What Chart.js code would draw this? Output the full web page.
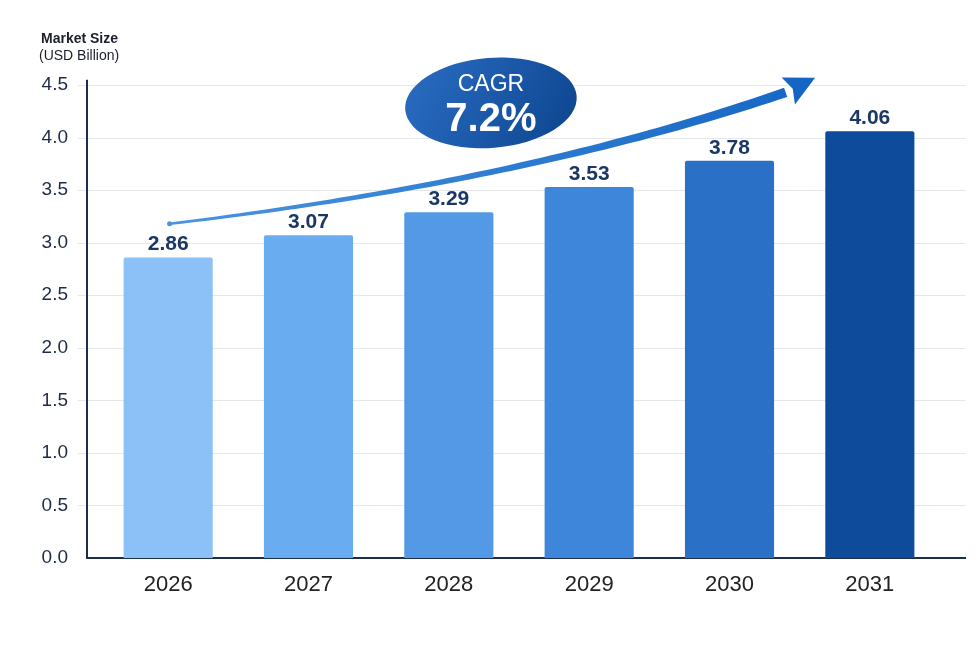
<!DOCTYPE html>
<html>
<head>
<meta charset="utf-8">
<style>
  html, body { margin: 0; padding: 0; background: #ffffff; }
  #wrap { position: relative; width: 980px; height: 653px; }
</style>
<script src="https://cdn.jsdelivr.net/npm/chart.js@4.4.1/dist/chart.umd.min.js"></script>
</head>
<body>
<div id="wrap"><canvas id="MarketSize" width="980" height="653"></canvas></div>
<script>
var years = ["2026", "2027", "2028", "2029", "2030", "2031"]
var marketSize = [2.86, 3.07, 3.29, 3.53, 3.78, 4.06]
var barColors = ["#8cc1f7", "#69acef", "#5399e5", "#3d86d9", "#2a70c6", "#0f4b9b"]
var yTicks = [0, 0.5, 1, 1.5, 2, 2.5, 3, 3.5, 4, 4.5]
var cagrLabel = "CAGR"
var cagrValue = "7.2%"

var FONT = "'Liberation Sans', Arial, sans-serif"

// grid lines + axis lines drawn a bit wider than the chart area
var axesPlugin = {
    id: "axesPlugin",
    beforeDatasetsDraw: function (chart) {
        var ctx = chart.ctx, y = chart.scales.y, a = chart.chartArea
        ctx.save()
        ctx.strokeStyle = "#e4e7eb"
        ctx.lineWidth = 1
        yTicks.forEach(function (t) {
            if (t === 0) return
            var py = Math.round(y.getPixelForValue(t)) + 0.5
            ctx.beginPath()
            ctx.moveTo(78, py)
            ctx.lineTo(966, py)
            ctx.stroke()
        })
        ctx.strokeStyle = "#1d2d4c"
        ctx.lineWidth = 2
        ctx.beginPath()
        ctx.moveTo(87, y.getPixelForValue(4.55))
        ctx.lineTo(87, a.bottom)
        ctx.lineTo(966, a.bottom)
        ctx.stroke()
        ctx.restore()
    },
    afterDatasetsDraw: function (chart) {
        var ctx = chart.ctx
        var meta = chart.getDatasetMeta(0)
        ctx.save()
        ctx.font = "bold 21px " + FONT
        ctx.fillStyle = "#1b3766"
        ctx.textAlign = "center"
        ctx.textBaseline = "alphabetic"
        meta.data.forEach(function (bar, i) {
            ctx.fillText(marketSize[i].toFixed(2), bar.x, bar.y - 7)
        })
        ctx.restore()
    }
}

// CAGR bubble and growth arrow, positioned through the scales
var cagrPlugin = {
    id: "cagrPlugin",
    afterDraw: function (chart) {
        var ctx = chart.ctx, xs = chart.scales.x, ys = chart.scales.y
        var x0 = xs.getPixelForValue(0), x1 = xs.getPixelForValue(1)
        function px(i) { return x0 + i * (x1 - x0) }
        function py(v) { return ys.getPixelForValue(v) }

        // arrow: quadratic curve with growing width
        var P0 = [px(0.01), py(3.18)], P1 = [px(2.54), py(3.58)], P2 = [px(4.4), py(4.43)]
        var tip = [px(4.61), py(4.57)]
        function pt(t) {
            var u = 1 - t
            return [u * u * P0[0] + 2 * u * t * P1[0] + t * t * P2[0],
                    u * u * P0[1] + 2 * u * t * P1[1] + t * t * P2[1]]
        }
        function tan(t) {
            var dx = 2 * (1 - t) * (P1[0] - P0[0]) + 2 * t * (P2[0] - P1[0])
            var dy = 2 * (1 - t) * (P1[1] - P0[1]) + 2 * t * (P2[1] - P1[1])
            var l = Math.sqrt(dx * dx + dy * dy)
            return [dx / l, dy / l]
        }
        var left = [], right = [], N = 60
        for (var k = 0; k <= N; k++) {
            var t = k / N, p = pt(t), d = tan(t)
            var hw = 1.3 + 3.5 * t
            left.push([p[0] - d[1] * hw, p[1] + d[0] * hw])
            right.push([p[0] + d[1] * hw, p[1] - d[0] * hw])
        }
        var grad = ctx.createLinearGradient(P0[0], 0, tip[0], 0)
        grad.addColorStop(0, "#4a95e0")
        grad.addColorStop(1, "#1566c4")
        ctx.save()
        ctx.fillStyle = grad
        ctx.beginPath()
        ctx.moveTo(left[0][0], left[0][1])
        for (k = 1; k <= N; k++) ctx.lineTo(left[k][0], left[k][1])
        for (k = N; k >= 0; k--) ctx.lineTo(right[k][0], right[k][1])
        ctx.closePath()
        ctx.fill()
        ctx.beginPath()
        ctx.arc(P0[0], P0[1], 2.5, 0, Math.PI * 2)
        ctx.fill()
        // arrow head
        var dx = tip[0] - P2[0], dy = tip[1] - P2[1]
        var l = Math.sqrt(dx * dx + dy * dy); dx /= l; dy /= l
        var bx = tip[0] - dx * 30, by = tip[1] - dy * 30
        ctx.fillStyle = "#1566c4"
        ctx.beginPath()
        ctx.moveTo(tip[0], tip[1])
        ctx.lineTo(bx - dy * 15, by + dx * 15)
        ctx.lineTo(bx + dx * 5, by + dy * 5)
        ctx.lineTo(bx + dy * 15, by - dx * 15)
        ctx.closePath()
        ctx.fill()

        // bubble
        var cx = px(2.3), cy = py(4.33)
        var eg = ctx.createLinearGradient(cx - 80, cy - 40, cx + 80, cy + 40)
        eg.addColorStop(0, "#2a6cc2")
        eg.addColorStop(1, "#0d4690")
        ctx.fillStyle = eg
        ctx.beginPath()
        ctx.ellipse(cx, cy, 86, 45, -0.08, 0, Math.PI * 2)
        ctx.fill()
        ctx.fillStyle = "#ffffff"
        ctx.textAlign = "center"
        ctx.textBaseline = "alphabetic"
        ctx.font = "23px " + FONT
        ctx.fillText(cagrLabel, cx, cy - 12)
        ctx.font = "bold 40px " + FONT
        ctx.fillText(cagrValue, cx, cy + 28)

        // axis title
        ctx.fillStyle = "#1a1f2b"
        ctx.textAlign = "left"
        ctx.font = "600 14px " + FONT
        ctx.fillText("Market Size", 41, 43)
        ctx.font = "14px " + FONT
        ctx.fillText("(USD Billion)", 39, 60)
        ctx.restore()
    }
}

var ms = document.getElementById("MarketSize")
var MarketSizeChart = new Chart(ms, {
    type: "bar",
    data: {
        labels: years,
        datasets: [
            {
                data: marketSize,
                backgroundColor: barColors,
                borderRadius: 2,
                borderSkipped: "bottom",
                categoryPercentage: 1,
                barPercentage: 0.635
            }
        ]
    },
    options: {
        responsive: false,
        animation: false,
        devicePixelRatio: 1,
        layout: { padding: { top: 85, right: 40, bottom: 0, left: 0 } },
        plugins: {
            legend: { display: false },
            tooltip: { enabled: false }
        },
        scales: {
            x: {
                grid: { display: false, drawTicks: false },
                border: { display: false },
                ticks: { color: "#222222", font: { family: FONT, size: 22 }, padding: 14 },
                afterFit: function (s) { s.height = 95 }
            },
            y: {
                min: 0,
                max: 4.5,
                grid: { display: false, drawTicks: false },
                border: { display: false },
                ticks: {
                    stepSize: 0.5,
                    color: "#1e2b45",
                    font: { family: FONT, size: 19 },
                    padding: 30,
                    callback: function (v) { return Number(v).toFixed(1) }
                },
                afterFit: function (s) { s.width = 98 }
            }
        }
    },
    plugins: [axesPlugin, cagrPlugin]
})
</script>
</body>
</html>
